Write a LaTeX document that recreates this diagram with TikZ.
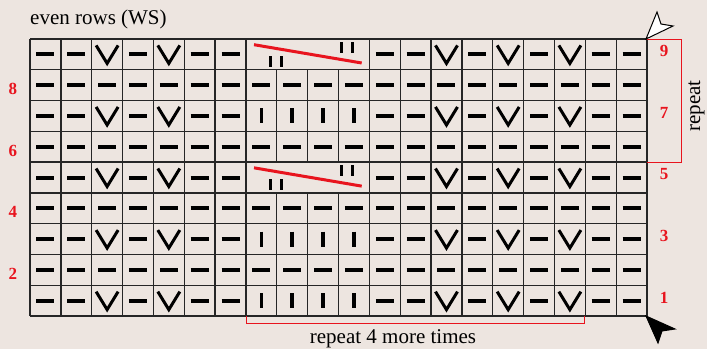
\documentclass[tikz,border=0pt]{standalone}
\usepackage{fontspec}
\setmainfont{Liberation Serif}
\definecolor{bg}{HTML}{EDE5E0}
\definecolor{rd}{HTML}{E8141E}
\begin{document}
\begin{tikzpicture}[x=1pt,y=-1pt,
  gridline/.style={line width=1.3pt,black!85},
  kdash/.style={line width=4pt,black},
  kvee/.style={line width=3pt,black,line join=miter},
  kbar/.style={line width=3.5pt,black},
  cablebar/.style={line width=3pt,black},
  cableline/.style={line width=3pt,rd},
  bracket/.style={line width=0.9pt,rd},
  rownum/.style={text=rd,font=\fontsize{17}{17}\selectfont\bfseries,inner sep=0pt},
  lbl/.style={font=\fontsize{21}{21}\selectfont,inner sep=0pt}]
\useasboundingbox (0,0) rectangle (707,349);
\fill[bg] (0,0) rectangle (707,349);
\def\CW{30.85}
\def\CH{30.78}
% stitches: purl dashes
\foreach \r in {2,4,6,8} \foreach \c in {1,...,20} {
  \pgfmathsetmacro\cx{30+(\c-0.5)*\CW}
  \pgfmathsetmacro\cy{39+(9.5-\r)*\CH}
  \draw[kdash] (\cx-9,\cy) -- (\cx+9,\cy);
}
\foreach \r in {1,3,5,7,9} \foreach \c in {1,2,4,6,7,12,13,15,17,19,20} {
  \pgfmathsetmacro\cx{30+(\c-0.5)*\CW}
  \pgfmathsetmacro\cy{39+(9.5-\r)*\CH}
  \draw[kdash] (\cx-9,\cy) -- (\cx+9,\cy);
}
% slipped stitches
\foreach \r in {1,3,5,7,9} \foreach \c in {3,5,14,16,18} {
  \pgfmathsetmacro\cx{30+(\c-0.5)*\CW}
  \pgfmathsetmacro\cy{39+(9.5-\r)*\CH}
  \draw[kvee] (\cx-11,\cy-9) -- (\cx,\cy+9) -- (\cx+11,\cy-9);
}
% knit bars
\foreach \r in {1,3,7} \foreach \c in {8,9,10,11} {
  \pgfmathsetmacro\cx{30+(\c-0.5)*\CW}
  \pgfmathsetmacro\cy{39+(9.5-\r)*\CH}
  \draw[kbar] (\cx,\cy-7.5) -- (\cx,\cy+7.5);
}
% cables
\foreach \r in {5,9} {
  \pgfmathsetmacro\T{39+(9-\r)*\CH}
  \draw[cableline] (254,\T+5.7) -- (361.7,\T+24);
  \draw[cablebar] (270,\T+17) -- (270,\T+28);
  \draw[cablebar] (281,\T+17) -- (281,\T+28);
  \draw[cablebar] (341,\T+3) -- (341,\T+14);
  \draw[cablebar] (352,\T+3) -- (352,\T+14);
}
% grid
\foreach \k in {0,...,9} {
  \pgfmathsetmacro\yy{39+\k*\CH}
  \draw[gridline] (30,\yy) -- (647,\yy);
}
\foreach \k in {0,...,7,11,12,...,20} {
  \pgfmathsetmacro\xx{30+\k*\CW}
  \draw[gridline] (\xx,39) -- (\xx,316);
}
\foreach \k in {8,9,10} {
  \pgfmathsetmacro\xx{30+\k*\CW}
  \draw[gridline] (\xx,39+\CH) -- (\xx,39+4*\CH);
  \draw[gridline] (\xx,39+5*\CH) -- (\xx,316);
}
% brackets
\coordinate (rb1) at (647,39);
\coordinate (rb2) at (681,39);
\coordinate (rb3) at (681,162.1);
\coordinate (rb4) at (647,162.1);
\draw[bracket] (rb1) -- (rb2) -- (rb3) -- (rb4);
\coordinate (bb1) at (246.9,316);
\coordinate (bb2) at (246.9,323);
\coordinate (bb3) at (584.2,323);
\coordinate (bb4) at (584.2,316);
\draw[bracket] (bb1) -- (bb2) -- (bb3) -- (bb4);
% labels
\node[lbl,anchor=base west] (even) at (30,24) {even rows (WS)};
\node[lbl,anchor=base] (rep4) at (393,343) {repeat 4 more times};
\node[lbl,rotate=90,anchor=base] (rep) at (700,106) {repeat};
\foreach \r in {1,3,5,7,9} {
  \pgfmathsetmacro\cy{39+(9.5-\r)*\CH-3}
  \node[rownum] (rn\r) at (664,\cy) {\r};
}
\foreach \r in {2,4,6,8} {
  \pgfmathsetmacro\cy{39+(9.5-\r)*\CH+4}
  \node[rownum] (rn\r) at (13,\cy) {\r};
}
% direction arrows
\filldraw[fill=white,draw=black,line width=1pt,line join=miter] (646,39) -- (657,12) -- (661,24) -- (673,26) -- cycle;
\filldraw[fill=black,draw=black,line width=1pt,line join=miter] (646,316) -- (675,329) -- (662,331) -- (658,343) -- cycle;
\end{tikzpicture}
\end{document}
